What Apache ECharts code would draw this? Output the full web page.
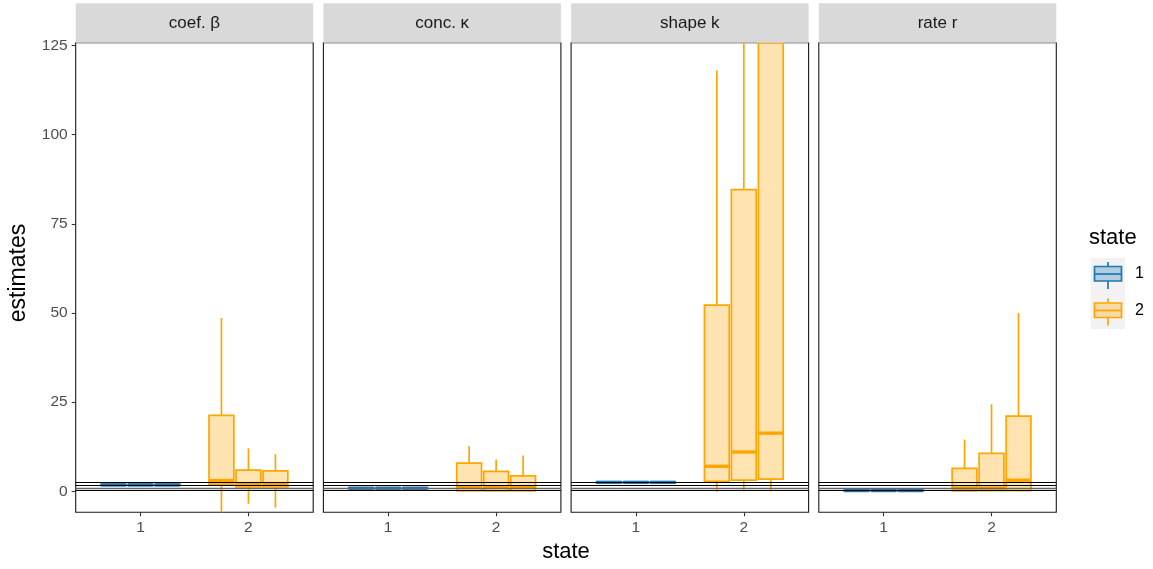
<!DOCTYPE html>
<html>
<head>
<meta charset="utf-8">
<script src="https://cdn.jsdelivr.net/npm/echarts@6/dist/echarts.min.js"></script>
<style>
  html, body { margin: 0; padding: 0; background: #fff; }
  #chart { width: 1153px; height: 569px; }
</style>
</head>
<body>
<div id="chart"></div>
<script>
// ---- data ----
const facetLabels = ['coef. \u03b2', 'conc. \u03ba', 'shape k', 'rate r'];
const xTicks = [1, 2];
const yTicks = [0, 25, 50, 75, 100, 125];
const groupOffsets = [-0.25, 0, 0.25];
// reference lines (drawn in every panel)
const refLinesBlack = [2.44, 1.77, 0.28];
const refLinesGrey = [0.84];
// boxes: [min, q1, median, q3, max], three per state
const betaState1 = [[1.5, 1.65, 1.8, 1.95, 2.1], [1.5, 1.65, 1.8, 1.95, 2.1], [1.5, 1.65, 1.8, 1.95, 2.1]];
const betaState2 = [[-12, 2.0, 3.0, 21.3, 48.6], [-3.5, 1.2, 2.0, 5.9, 12.0], [-4.6, 1.2, 2.0, 5.7, 10.4]];
const kappaState1 = [[0.6, 0.72, 0.85, 0.98, 1.1], [0.6, 0.72, 0.85, 0.98, 1.1], [0.6, 0.72, 0.85, 0.98, 1.1]];
const kappaState2 = [[0.0, 0.1, 1.2, 7.9, 12.6], [0.0, 0.1, 1.1, 5.6, 8.9], [0.0, 0.1, 1.2, 4.3, 10.0]];
const shapeState1 = [[2.2, 2.37, 2.5, 2.63, 2.8], [2.2, 2.37, 2.5, 2.63, 2.8], [2.2, 2.37, 2.5, 2.63, 2.8]];
const shapeState2 = [[-0.2, 2.8, 7.0, 52.2, 118], [0.0, 3.1, 11.0, 84.6, 200], [0.0, 3.4, 16.3, 220, 320]];
const rateState1 = [[0.0, 0.08, 0.2, 0.33, 0.45], [0.0, 0.08, 0.2, 0.33, 0.45], [0.0, 0.08, 0.2, 0.33, 0.45]];
const rateState2 = [[0.0, 0.1, 0.9, 6.4, 14.5], [0.0, 0.2, 0.9, 10.6, 24.4], [0.0, 0.2, 3.1, 21.1, 50.0]];

const state1ByFacet = [betaState1, kappaState1, shapeState1, rateState1];
const state2ByFacet = [betaState2, kappaState2, shapeState2, rateState2];

// ---- styling / layout ----
const BLUE = '#1F78B4', BLUE_FILL = 'rgba(31,120,180,0.3)';
const ORANGE = '#FFA500', ORANGE_FILL = 'rgba(255,165,0,0.3)';
const panelLefts = [75.7, 323.4, 571.1, 818.8];
const panelW = 237.5, panelTop = 42.7, panelH = 469.6;
const yMin = -5.9, yMax = 125.8;
const boxHalf = 0.115;

function toRows(stats, state) {
  return stats.map((s, i) => [state + groupOffsets[i]].concat(s));
}

function renderBox(color, fill) {
  return function (params, api) {
    const cs = params.coordSys;
    const top = cs.y, bot = cs.y + cs.height;
    const clampY = v => Math.max(top, Math.min(bot, v));
    const x = api.value(0);
    const lo = api.value(1), q1 = api.value(2), med = api.value(3), q3 = api.value(4), hi = api.value(5);
    const cx = api.coord([x, 0])[0];
    const xl = api.coord([x - boxHalf, 0])[0];
    const xr = api.coord([x + boxHalf, 0])[0];
    const yLo = clampY(api.coord([x, lo])[1]);
    const yQ1 = clampY(api.coord([x, q1])[1]);
    const yMed = api.coord([x, med])[1];
    const yQ3 = clampY(api.coord([x, q3])[1]);
    const yHi = clampY(api.coord([x, hi])[1]);
    const children = [
      { type: 'line', shape: { x1: cx, y1: yQ3, x2: cx, y2: yHi }, style: { stroke: color, lineWidth: 1.7 } },
      { type: 'line', shape: { x1: cx, y1: yQ1, x2: cx, y2: yLo }, style: { stroke: color, lineWidth: 1.7 } },
      { type: 'rect', shape: { x: xl, y: yQ3, width: xr - xl, height: Math.max(yQ1 - yQ3, 0.5) },
        style: { fill: fill, stroke: color, lineWidth: 1.7 } }
    ];
    if (yMed >= top && yMed <= bot) {
      children.push({ type: 'line', shape: { x1: xl, y1: yMed, x2: xr, y2: yMed }, style: { stroke: color, lineWidth: 3.4 } });
    }
    return { type: 'group', children: children };
  };
}

const grids = [], xAxes = [], yAxes = [], series = [], graphics = [];
const labelFont = 'Liberation Sans, Arial, sans-serif';

facetLabels.forEach((lab, f) => {
  grids.push({ left: panelLefts[f], top: panelTop, width: panelW, height: panelH,
    show: true, borderColor: '#1a1a1a', borderWidth: 1.1, backgroundColor: '#fff' });
  xAxes.push({
    gridIndex: f, type: 'value', min: 0.4, max: 2.6,
    axisLine: { show: false, onZero: false },
    axisTick: { show: true, customValues: xTicks, length: 4, lineStyle: { color: '#333', width: 1.1 } },
    axisLabel: { show: true, customValues: xTicks, color: '#4D4D4D', fontSize: 15.5, margin: 7, fontFamily: labelFont },
    splitLine: { show: false }
  });
  yAxes.push({
    gridIndex: f, type: 'value', min: yMin, max: yMax,
    axisLine: { show: false, onZero: false },
    axisTick: { show: f === 0, customValues: yTicks, length: 4, lineStyle: { color: '#333', width: 1.1 } },
    axisLabel: { show: f === 0, customValues: yTicks, color: '#4D4D4D', fontSize: 15.5, margin: 8, fontFamily: labelFont },
    splitLine: { show: false }
  });
  series.push({
    type: 'custom', xAxisIndex: f, yAxisIndex: f, z: 3,
    renderItem: renderBox(BLUE, BLUE_FILL), data: toRows(state1ByFacet[f], 1),
    encode: { x: 0, y: [1, 2, 3, 4, 5] }
  });
  series.push({
    type: 'custom', xAxisIndex: f, yAxisIndex: f, z: 3,
    renderItem: renderBox(ORANGE, ORANGE_FILL), data: toRows(state2ByFacet[f], 2),
    encode: { x: 0, y: [1, 2, 3, 4, 5] }
  });
  series.push({
    type: 'line', xAxisIndex: f, yAxisIndex: f, z: 5, data: [], silent: true,
    markLine: {
      symbol: 'none', silent: true, animation: false, label: { show: false },
      data: refLinesBlack.map(v => ({ yAxis: v, lineStyle: { color: '#000', width: 1, type: 'solid' } }))
        .concat(refLinesGrey.map(v => ({ yAxis: v, lineStyle: { color: '#666', width: 1.3, type: 'solid' } })))
    }
  });
  // strip
  graphics.push({ type: 'rect', shape: { x: panelLefts[f], y: 3.3, width: panelW, height: panelTop - 3.3 },
    style: { fill: '#D9D9D9' }, z: 10 });
  graphics.push({ type: 'text', x: panelLefts[f] + panelW / 2, y: 23,
    style: { text: lab, fill: '#1A1A1A', font: '17px ' + labelFont, align: 'center', verticalAlign: 'middle' }, z: 11 });
});

// axis titles
graphics.push({ type: 'text', x: 19, y: 273, rotation: Math.PI / 2,
  style: { text: 'estimates', fill: '#000', font: '23px ' + labelFont, align: 'center', verticalAlign: 'middle' } });
graphics.push({ type: 'text', x: 566, y: 552,
  style: { text: 'state', fill: '#000', font: '22px ' + labelFont, align: 'center', verticalAlign: 'middle' } });

// legend
graphics.push({ type: 'text', x: 1089, y: 238,
  style: { text: 'state', fill: '#000', font: '22px ' + labelFont, align: 'left', verticalAlign: 'middle' } });
graphics.push({ type: 'rect', shape: { x: 1090.7, y: 257.7, width: 34.3, height: 71.3 }, style: { fill: '#F2F2F2' } });
function legendKey(cy, color, fill) {
  graphics.push({ type: 'line', shape: { x1: 1108, y1: cy - 12, x2: 1108, y2: cy + 15 }, style: { stroke: color, lineWidth: 1.7 } });
  graphics.push({ type: 'rect', shape: { x: 1094.5, y: cy - 7.5, width: 27, height: 14.5 },
    style: { fill: '#F2F2F2', stroke: null } });
  graphics.push({ type: 'rect', shape: { x: 1094.5, y: cy - 7.5, width: 27, height: 14.5 },
    style: { fill: fill, stroke: color, lineWidth: 1.7 } });
  graphics.push({ type: 'line', shape: { x1: 1094.5, y1: cy, x2: 1121.5, y2: cy }, style: { stroke: color, lineWidth: 1.7 } });
}
legendKey(274, BLUE, BLUE_FILL);
legendKey(310.5, ORANGE, ORANGE_FILL);
graphics.push({ type: 'text', x: 1135, y: 274,
  style: { text: '1', fill: '#000', font: '16px ' + labelFont, align: 'left', verticalAlign: 'middle' } });
graphics.push({ type: 'text', x: 1135, y: 311,
  style: { text: '2', fill: '#000', font: '16px ' + labelFont, align: 'left', verticalAlign: 'middle' } });

const chart = echarts.init(document.getElementById('chart'), null, { renderer: 'canvas' });
chart.setOption({
  animation: false,
  backgroundColor: '#fff',
  grid: grids, xAxis: xAxes, yAxis: yAxes, series: series, graphic: graphics
});
</script>
</body>
</html>
